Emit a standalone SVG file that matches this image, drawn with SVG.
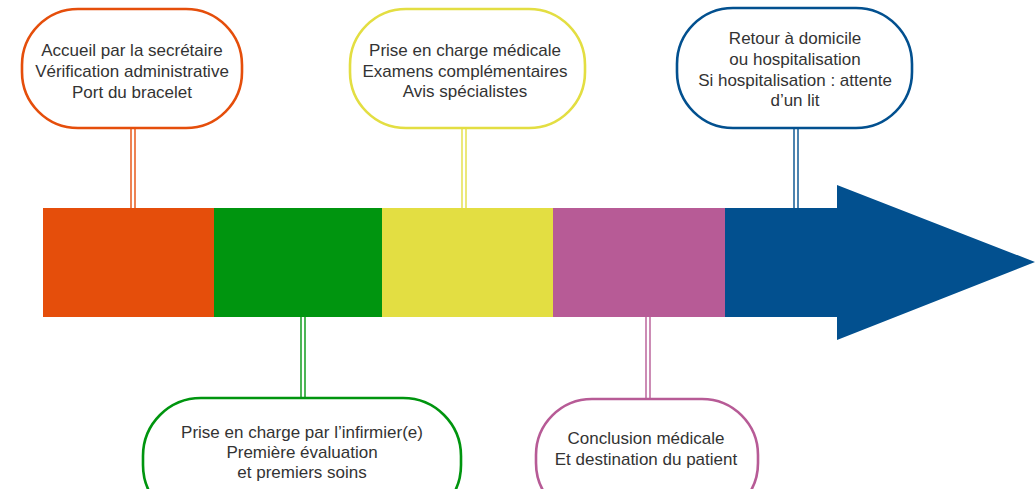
<svg xmlns="http://www.w3.org/2000/svg" width="1035" height="489" viewBox="0 0 1035 489">
<style>
.box{fill:#fff;stroke-width:2.6}
.t{font-family:"Liberation Sans",Arial,sans-serif;font-size:17px;fill:#333;text-anchor:middle}
.c line{stroke-width:1.4}
</style>
<rect width="1035" height="489" fill="#fff"/>
<g id="timeline">
<rect x="43" y="208" width="172" height="109" fill="#E54E0B"/>
<rect x="214" y="208" width="168" height="109" fill="#00950F"/>
<rect x="382" y="208" width="172" height="109" fill="#E3DE42"/>
<rect x="553" y="208" width="173" height="109" fill="#B75B96"/>
<polygon points="725,208 837,208 837,185 1035,262 837,340 837,317 725,317" fill="#02508F"/>
</g>
<g id="connectors" class="c">
<line x1="131" y1="128" x2="131" y2="208" stroke="#E54E0B"/><line x1="135" y1="128" x2="135" y2="208" stroke="#E54E0B"/>
<line x1="462" y1="128" x2="462" y2="208" stroke="#E3DE42"/><line x1="466" y1="128" x2="466" y2="208" stroke="#E3DE42"/>
<line x1="794" y1="128" x2="794" y2="208" stroke="#02508F"/><line x1="798" y1="128" x2="798" y2="208" stroke="#02508F"/>
<line x1="301" y1="317" x2="301" y2="398" stroke="#00950F"/><line x1="305" y1="317" x2="305" y2="398" stroke="#00950F"/>
<line x1="646" y1="317" x2="646" y2="399" stroke="#B75B96"/><line x1="650" y1="317" x2="650" y2="399" stroke="#B75B96"/>
</g>
<g id="n1">
<rect class="box" x="22" y="9" width="220" height="119" rx="56" stroke="#E54E0B"/>
<text class="t" x="132" y="56">Accueil par la secrétaire</text>
<text class="t" x="132" y="77">Vérification administrative</text>
<text class="t" x="132" y="98">Port du bracelet</text>
</g>
<g id="n2">
<rect class="box" x="143" y="398" width="318" height="125" rx="58" stroke="#00950F"/>
<text class="t" x="302" y="438">Prise en charge par l’infirmier(e)</text>
<text class="t" x="302" y="458">Première évaluation</text>
<text class="t" x="302" y="478">et premiers soins</text>
</g>
<g id="n3">
<rect class="box" x="350" y="9" width="235" height="119" rx="56" stroke="#E3DE42"/>
<text class="t" x="465" y="56">Prise en charge médicale</text>
<text class="t" x="465" y="77">Examens complémentaires</text>
<text class="t" x="465" y="97">Avis spécialistes</text>
</g>
<g id="n4">
<rect class="box" x="536" y="399" width="222" height="120" rx="56" stroke="#B75B96"/>
<text class="t" x="646" y="444">Conclusion médicale</text>
<text class="t" x="646" y="465">Et destination du patient</text>
</g>
<g id="n5">
<rect class="box" x="677" y="8" width="235" height="120" rx="56" stroke="#02508F"/>
<text class="t" x="795" y="44">Retour à domicile</text>
<text class="t" x="795" y="65">ou hospitalisation</text>
<text class="t" x="795" y="86">Si hospitalisation : attente</text>
<text class="t" x="795" y="106">d’un lit</text>
</g>
</svg>
